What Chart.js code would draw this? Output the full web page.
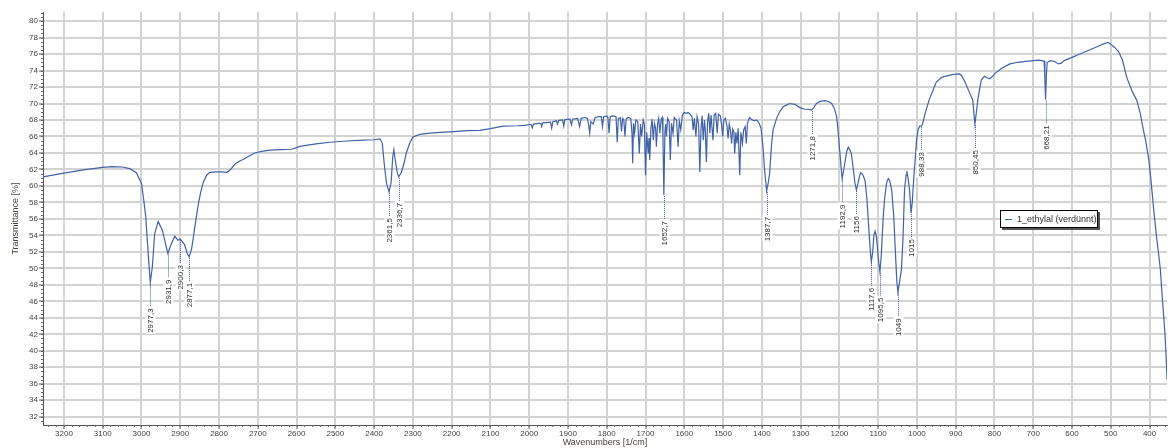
<!DOCTYPE html>
<html>
<head>
<meta charset="utf-8">
<script src="https://cdn.jsdelivr.net/npm/chart.js@4.4.1/dist/chart.umd.min.js"></script>
<style>
  html, body { margin: 0; padding: 0; background: #fff; }
</style>
</head>
<body>
<canvas id="myChart" width="1168" height="448"></canvas>
<script>
// spectrum, split by region (wavenumber in 1/cm, transmittance in %)
const stretchWn = [3260, 3200, 3150, 3100, 3075, 3050, 3030, 3013, 3000, 2995,
    2989, 2983, 2977.3, 2972, 2966, 2957, 2946, 2938, 2931.9, 2923,
    2914, 2906, 2900.3, 2889, 2882, 2877.1, 2871, 2867, 2860, 2854,
    2847, 2841, 2832, 2824, 2808, 2794, 2780, 2772, 2760]
const stretchT = [61.05, 61.55, 61.95, 62.25, 62.35, 62.3, 62.1, 61.6, 60.3, 58.6,
    56.3, 52.0, 48.3, 50.2, 54.2, 55.7, 54.6, 53.0, 51.8, 53.0,
    53.9, 53.4, 53.55, 52.9, 51.8, 51.4, 52.3, 53.5, 55.8, 57.6,
    59.3, 60.4, 61.3, 61.65, 61.7, 61.7, 61.65, 61.9, 62.6]

const plateauWn = [2748, 2738, 2720, 2708, 2690, 2669, 2640, 2613, 2600, 2592,
    2550, 2514, 2470, 2429, 2400, 2385, 2379, 2373, 2368, 2361.5,
    2356, 2352, 2349, 2346, 2341, 2336.7, 2330, 2322, 2317, 2308,
    2300, 2282, 2257, 2230, 2196, 2160, 2127, 2100, 2067, 2030,
    2010]
const plateauT = [63.0, 63.2, 63.7, 64.0, 64.2, 64.35, 64.4, 64.45, 64.65, 64.8,
    65.1, 65.3, 65.45, 65.55, 65.6, 65.7, 65.2, 62.3, 60.3, 59.25,
    60.5, 63.5, 64.4, 63.3, 61.8, 61.1, 61.6, 62.9, 64.0, 65.2,
    65.95, 66.25, 66.4, 66.5, 66.6, 66.7, 66.75, 66.95, 67.25, 67.3,
    67.35]

const vapourWn = [2000, 1995, 1992, 1989, 1975, 1970, 1968, 1965, 1950, 1945,
    1942, 1939, 1930, 1927, 1924, 1914, 1911, 1908, 1895, 1891,
    1888, 1875, 1870, 1866, 1855, 1850, 1847, 1844, 1841, 1835,
    1830, 1820, 1814, 1811, 1808, 1800, 1797, 1794, 1791, 1785,
    1776, 1773, 1770, 1765, 1762, 1759, 1756, 1753, 1750, 1745,
    1738, 1735, 1733, 1731, 1728, 1725, 1720, 1716, 1713, 1710,
    1706, 1703, 1700, 1697, 1693, 1691, 1689, 1686, 1683, 1680,
    1677, 1674, 1672, 1669, 1666, 1663, 1660, 1657, 1655, 1652.7,
    1650, 1648, 1646, 1643, 1639, 1636, 1633, 1629, 1626, 1620,
    1616, 1613, 1609, 1605, 1600, 1595, 1590, 1585, 1580, 1577,
    1574, 1570, 1567, 1563, 1560, 1557, 1554, 1551, 1548, 1546,
    1543, 1540, 1537, 1534, 1531, 1526, 1523, 1519, 1515, 1512,
    1507, 1504, 1501, 1498, 1494, 1490, 1487, 1484, 1481, 1478,
    1475, 1472, 1470, 1467, 1464, 1461, 1457, 1454, 1450, 1447,
    1443, 1440, 1437, 1432, 1427, 1420, 1414, 1408, 1402]
const vapourT = [67.45, 67.45, 67.05, 67.5, 67.6, 67.6, 67.2, 67.65, 67.7, 67.75,
    67.0, 67.8, 67.9, 67.5, 67.95, 68.0, 67.25, 68.05, 68.1, 67.4,
    68.1, 68.2, 67.2, 68.2, 68.3, 68.2, 67.5, 66.4, 67.8, 67.5,
    68.3, 68.4, 68.4, 67.2, 68.4, 68.5, 68.3, 66.4, 68.4, 68.5,
    68.4, 65.3, 68.2, 68.3, 66.6, 68.2, 68.0, 66.0, 68.1, 68.3,
    68.2, 66.5, 62.75, 67.6, 66.4, 68.0, 67.8, 63.95, 67.5, 66.0,
    68.0, 67.5, 61.3, 66.5, 63.95, 65.8, 63.15, 67.0, 68.1, 65.55,
    67.6, 67.0, 64.75, 67.5, 68.2, 66.4, 68.0, 68.3, 66.0, 58.9,
    66.5, 67.5, 66.0, 68.2, 67.8, 63.15, 67.6, 66.4, 68.3, 68.0,
    64.75, 67.9, 66.8, 68.6, 68.9, 68.8, 68.9, 68.7, 68.4, 66.8,
    68.2, 66.0, 68.4, 67.5, 61.7, 66.8, 68.5, 65.55, 68.0, 67.0,
    62.9, 67.8, 68.8, 66.4, 68.6, 65.55, 68.6, 68.8, 66.4, 68.7,
    68.5, 67.5, 66.0, 68.0, 68.2, 67.3, 65.75, 67.5, 66.8, 65.15,
    66.9, 66.5, 63.95, 66.5, 65.15, 67.0, 61.3, 66.5, 65.15, 66.8,
    67.2, 65.15, 67.6, 68.3, 68.1, 67.9, 68.0, 67.7, 67.0]

const fingerprintWn = [1397, 1393, 1387.7, 1383, 1380, 1375, 1371, 1362, 1354, 1345,
    1337, 1328, 1315, 1302, 1290, 1280, 1271.8, 1265, 1259, 1250,
    1237, 1228, 1220, 1213, 1207, 1203, 1200, 1196, 1192.9, 1190,
    1186, 1181, 1177, 1173, 1169, 1164, 1160, 1156, 1152, 1148,
    1145, 1140, 1134, 1129, 1124, 1120, 1117.6, 1114, 1111, 1108,
    1105, 1102, 1098, 1095.5, 1092, 1087, 1083, 1078, 1074, 1070,
    1065, 1060, 1055, 1052, 1049, 1045, 1040, 1036, 1032, 1028,
    1026, 1023, 1019, 1015, 1012, 1008, 1004, 1001, 997, 993,
    988.33, 985, 980]
const fingerprintT = [64.75, 62.0, 59.4, 60.5, 61.5, 65.0, 66.8, 68.2, 69.0, 69.6,
    69.8, 70.0, 69.9, 69.5, 69.3, 69.3, 69.2, 69.6, 70.0, 70.25,
    70.35, 70.25, 70.0, 69.4, 68.4, 66.5, 64.75, 62.5, 60.9, 61.6,
    62.75, 64.2, 64.7, 64.4, 63.9, 62.0, 60.4, 59.5, 60.3, 61.2,
    61.6, 61.4, 60.7, 58.5, 54.7, 52.0, 50.8, 52.0, 54.0, 54.5,
    54.0, 52.6, 50.5, 49.6, 51.5, 56.2, 58.6, 60.4, 60.9, 60.6,
    59.5, 56.5, 51.5, 48.5, 47.1, 48.3, 49.8, 53.5, 59.5, 61.3,
    61.8, 61.0, 59.5, 56.7, 58.0, 61.1, 63.5, 65.55, 66.8, 67.25,
    67.25, 67.6, 68.6]

const farWn = [975, 968, 962, 950, 935, 910, 890, 885, 876, 866,
    856, 853, 850.45, 847, 843, 838, 834, 826, 818, 812,
    805, 795, 780, 760, 740, 720, 700, 685, 672, 670,
    668.21, 666, 664, 655, 645, 635, 628, 620, 600, 580,
    560, 540, 525, 515, 507, 500, 490, 480, 470, 459,
    445, 433, 424, 416, 410, 403, 398, 394, 388, 381,
    376, 372, 368, 364, 360, 357, 355]
const farT = [69.4, 70.5, 71.2, 72.6, 73.2, 73.5, 73.6, 73.4, 72.6, 71.5,
    70.4, 68.8, 67.5, 68.8, 70.4, 71.8, 72.85, 73.3, 73.1, 73.0,
    73.3, 73.8, 74.3, 74.8, 75.0, 75.1, 75.2, 75.25, 75.15, 73.0,
    70.5, 73.5, 75.0, 75.2, 75.1, 74.8, 74.9, 75.2, 75.6, 76.0,
    76.4, 76.8, 77.1, 77.3, 77.4, 77.2, 76.8, 76.3, 75.3, 73.2,
    71.5, 70.4, 68.8, 66.8, 65.5, 63.5, 61.5, 59.5, 56.5, 53.4,
    51.5, 49.8, 47.0, 44.5, 41.8, 39.0, 36.5]

// picked peaks
const peakWavenumbers = [2977.3, 2931.9, 2900.3, 2877.1, 2361.5, 2336.7, 1652.7, 1387.7, 1271.8,
    1192.9, 1156, 1117.6, 1095.5, 1049, 1015, 988.33, 850.45, 668.21]
const peakLabels = ['2977,3', '2931,9', '2900,3', '2877,1', '2361,5', '2336,7', '1652,7', '1387,7', '1271,8',
    '1192,9', '1156', '1117,6', '1095,5', '1049', '1015', '988,33', '850,45', '668,21']

// axis ticks
const xTickValues = [3200, 3100, 3000, 2900, 2800, 2700, 2600, 2500, 2400, 2300, 2200, 2100, 2000, 1900,
    1800, 1700, 1600, 1500, 1400, 1300, 1200, 1100, 1000, 900, 800, 700, 600, 500, 400]
const yTickValues = [32, 34, 36, 38, 40, 42, 44, 46, 48, 50, 52, 54, 56, 58, 60, 62, 64, 66, 68, 70, 72, 74, 76, 78, 80]

const seriesName = '1_ethylal (verdünnt)'
const lineColor = '#4062a8'

const wavenumbers = [...stretchWn, ...plateauWn, ...vapourWn, ...fingerprintWn, ...farWn]
const transmittance = [...stretchT, ...plateauT, ...vapourT, ...fingerprintT, ...farT]
const points = wavenumbers.map((w, i) => ({ x: w, y: transmittance[i] }))

const tickFont = { family: 'Liberation Sans', size: 8 }
const titleFont = { family: 'Liberation Sans', size: 9 }

// minor tick marks along both axes
const minorTicks = {
    id: 'minorTicks',
    afterDraw(chart) {
        const { ctx, chartArea, scales: { x, y } } = chart
        ctx.save()
        ctx.strokeStyle = '#666'
        ctx.lineWidth = 1
        ctx.beginPath()
        for (let v = 31.5; v <= 81; v += 0.5) {
            const py = Math.round(y.getPixelForValue(v)) + 0.5
            ctx.moveTo(chartArea.left - 2, py)
            ctx.lineTo(chartArea.left, py)
        }
        for (let w = 360; w <= 3250; w += 20) {
            const px = Math.round(x.getPixelForValue(w)) + 0.5
            ctx.moveTo(px, chartArea.bottom)
            ctx.lineTo(px, chartArea.bottom + 2)
        }
        ctx.stroke()
        ctx.restore()
    }
}

// vertical peak labels hanging below each picked peak
const peakMarks = {
    id: 'peakMarks',
    afterDatasetsDraw(chart) {
        const { ctx, scales: { x, y } } = chart
        ctx.font = '8px "Liberation Sans"'
        peakWavenumbers.forEach((pw, i) => {
            const k = wavenumbers.indexOf(pw)
            const px = Math.round(x.getPixelForValue(pw)) + 0.5
            const py = y.getPixelForValue(transmittance[k])
            const end = py + 25
            ctx.save()
            ctx.strokeStyle = lineColor
            ctx.lineWidth = 1
            ctx.setLineDash([1, 1])
            ctx.beginPath()
            ctx.moveTo(px, py + 1)
            ctx.lineTo(px, end)
            ctx.stroke()
            ctx.translate(px, end)
            ctx.rotate(-Math.PI / 2)
            const tw = ctx.measureText(peakLabels[i]).width
            ctx.fillStyle = '#fff'
            ctx.fillRect(-tw - 2, -5, tw + 3, 10)
            ctx.fillStyle = '#333'
            ctx.textAlign = 'right'
            ctx.textBaseline = 'middle'
            ctx.fillText(peakLabels[i], -1, 0)
            ctx.restore()
        })
    }
}

// boxed legend floating inside the plot
const boxLegend = {
    id: 'boxLegend',
    afterDraw(chart) {
        const { ctx } = chart
        const bx = 1000, by = 210, bw = 98, bh = 18
        ctx.save()
        ctx.fillStyle = '#555'
        ctx.fillRect(bx + 2, by + 2, bw, bh)
        ctx.fillStyle = '#fff'
        ctx.fillRect(bx, by, bw, bh)
        ctx.strokeStyle = '#000'
        ctx.lineWidth = 1
        ctx.strokeRect(bx + 0.5, by + 0.5, bw - 1, bh - 1)
        ctx.strokeStyle = lineColor
        ctx.beginPath()
        ctx.moveTo(bx + 5, by + 9.5)
        ctx.lineTo(bx + 12, by + 9.5)
        ctx.stroke()
        ctx.fillStyle = '#333'
        ctx.font = '9px "Liberation Sans"'
        ctx.textBaseline = 'middle'
        ctx.fillText(seriesName, bx + 17, by + 9.5)
        ctx.restore()
    }
}

const ctx = document.getElementById('myChart').getContext('2d')
const chart = new Chart(ctx, {
    type: 'line',
    data: {
        datasets: [{
            label: seriesName,
            data: points,
            borderColor: lineColor,
            borderWidth: 1.2,
            pointRadius: 0,
            tension: 0,
            fill: false
        }]
    },
    options: {
        responsive: false,
        animation: false,
        devicePixelRatio: 1,
        layout: { padding: { top: 12, right: 1, left: 0, bottom: 0 } },
        plugins: {
            legend: { display: false },
            tooltip: { enabled: false }
        },
        scales: {
            x: {
                type: 'linear',
                reverse: true,
                min: 355,
                max: 3254,
                afterFit(scale) { scale.height = 23 },
                afterBuildTicks(scale) { scale.ticks = xTickValues.map(v => ({ value: v })) },
                ticks: { maxRotation: 0, autoSkip: false, font: tickFont, color: '#444', padding: 0, callback: v => String(v) },
                grid: { color: '#d3d3d3', lineWidth: 2, tickLength: 4, tickColor: '#555', tickWidth: 1 },
                border: { display: true, color: '#555', width: 1 },
                title: { display: true, text: 'Wavenumbers [1/cm]', font: titleFont, color: '#4a3f36', padding: { top: 0, bottom: 0 } }
            },
            y: {
                type: 'linear',
                min: 31,
                max: 81.1,
                afterFit(scale) { scale.width = 43 },
                afterBuildTicks(scale) { scale.ticks = yTickValues.map(v => ({ value: v })) },
                ticks: { font: tickFont, color: '#444', padding: 1, callback: v => String(v) },
                grid: { color: '#d3d3d3', lineWidth: 2, tickLength: 4, tickColor: '#555', tickWidth: 1 },
                border: { display: true, color: '#555', width: 1 },
                title: { display: true, text: 'Transmittance [%]', font: titleFont, color: '#4a3f36', padding: { top: 10, bottom: 0 } }
            }
        }
    },
    plugins: [minorTicks, peakMarks, boxLegend]
})
</script>
</body>
</html>
